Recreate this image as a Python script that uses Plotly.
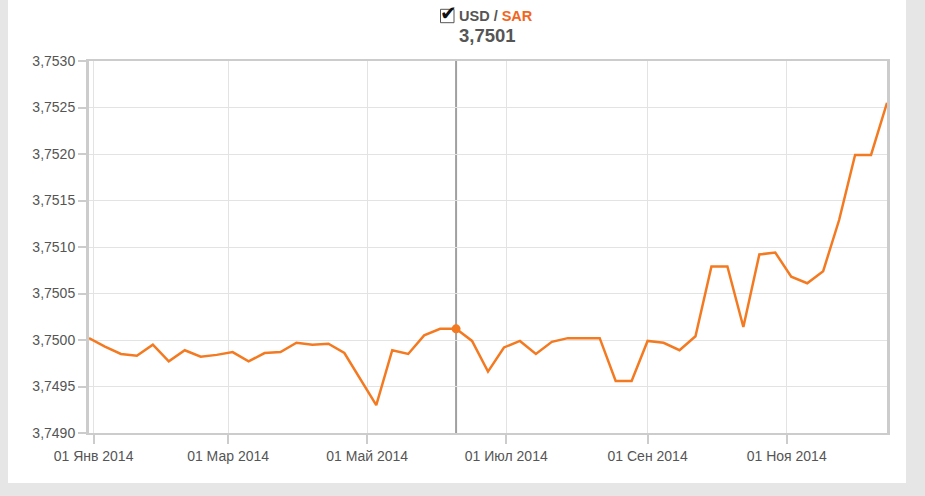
import plotly.graph_objects as go

dates = [
    "2013-12-30", "2014-01-06", "2014-01-13", "2014-01-20", "2014-01-27",
    "2014-02-03", "2014-02-10", "2014-02-17", "2014-02-24",
    "2014-03-03", "2014-03-10", "2014-03-17", "2014-03-24", "2014-03-31",
    "2014-04-07", "2014-04-14", "2014-04-21", "2014-04-28",
    "2014-05-05", "2014-05-12", "2014-05-19", "2014-05-26",
    "2014-06-02", "2014-06-09", "2014-06-16", "2014-06-23", "2014-06-30",
    "2014-07-07", "2014-07-14", "2014-07-21", "2014-07-28",
    "2014-08-04", "2014-08-11", "2014-08-18", "2014-08-25",
    "2014-09-01", "2014-09-08", "2014-09-15", "2014-09-22", "2014-09-29",
    "2014-10-06", "2014-10-13", "2014-10-20", "2014-10-27",
    "2014-11-03", "2014-11-10", "2014-11-17", "2014-11-24",
    "2014-12-01", "2014-12-08", "2014-12-15",
]

rates = [
    3.75002, 3.74993, 3.74985, 3.74983, 3.74995,
    3.74977, 3.74989, 3.74982, 3.74984,
    3.74987, 3.74977, 3.74986, 3.74987, 3.74997,
    3.74995, 3.74996, 3.74986, 3.74958,
    3.74930, 3.74989, 3.74985, 3.75005,
    3.75012, 3.75012, 3.74999, 3.74966, 3.74992,
    3.74999, 3.74985, 3.74998, 3.75002,
    3.75002, 3.75002, 3.74956, 3.74956,
    3.74999, 3.74997, 3.74989, 3.75004, 3.75079,
    3.75079, 3.75014, 3.75092, 3.75094,
    3.75068, 3.75061, 3.75074, 3.75129,
    3.75199, 3.75199, 3.75255,
]

hover_index = 23

tick_dates = ["2014-01-01", "2014-03-01", "2014-05-01", "2014-07-01", "2014-09-01", "2014-11-01"]
tick_labels = ["01 Янв 2014", "01 Мар 2014", "01 Май 2014", "01 Июл 2014", "01 Сен 2014", "01 Ноя 2014"]

y_ticks = [3.7490, 3.7495, 3.7500, 3.7505, 3.7510, 3.7515, 3.7520, 3.7525, 3.7530]

base_label = "USD"
quote_label = "SAR"

LINE = "#f47a22"
ORANGE_TXT = "#f26522"
FONT = "Liberation Sans, Arial, sans-serif"

fig = go.Figure()
fig.add_trace(go.Scatter(
    x=dates, y=rates, mode="lines",
    line=dict(color=LINE, width=2.5),
    hoverinfo="skip", showlegend=False,
))
fig.add_trace(go.Scatter(
    x=[dates[hover_index]], y=[rates[hover_index]], mode="markers",
    marker=dict(color=LINE, size=9),
    hoverinfo="skip", showlegend=False,
))

W, H = 925, 496
L, R, T, B = 89, 38, 61, 63
pw = W - L - R
ph = H - T - B

def px(x):
    return (x - L) / pw

def py(y):
    return (H - B - y) / ph

shapes = [
    # white panel
    dict(type="rect", xref="paper", yref="paper",
         x0=px(8), x1=px(906), y0=py(483), y1=py(-2),
         fillcolor="white", line=dict(width=0), layer="below"),
    # crosshair
    dict(type="line", xref="x", yref="paper",
         x0=dates[hover_index], x1=dates[hover_index], y0=0, y1=1,
         line=dict(color="#a0a0a0", width=2), layer="below"),
    # checkbox
    dict(type="rect", xref="paper", yref="paper",
         x0=px(440.5), x1=px(454), y0=py(22.7), y1=py(9.3),
         fillcolor="white", line=dict(color="#555555", width=1)),
]

annotations = [
    dict(xref="paper", yref="paper", x=px(448.5), y=py(13), xanchor="center", yanchor="middle",
         text="✔", showarrow=False, font=dict(family="DejaVu Sans", size=20, color="#111111")),
    dict(xref="paper", yref="paper", x=px(496), y=py(16), xanchor="center", yanchor="middle",
         text=f"<b>{base_label} / </b><b><span style='color:{ORANGE_TXT}'>{quote_label}</span></b>",
         showarrow=False, font=dict(family=FONT, size=14.5, color="#555555")),
    dict(xref="paper", yref="paper", x=px(487), y=py(35), xanchor="center", yanchor="middle",
         text="<b>" + f"{rates[hover_index]:.4f}".replace(".", ",") + "</b>",
         showarrow=False, font=dict(family=FONT, size=18.5, color="#555555")),
]

fig.update_layout(
    width=W, height=H,
    margin=dict(l=L, r=R, t=T, b=B, pad=0),
    paper_bgcolor="#e6e6e6",
    plot_bgcolor="white",
    separators=", ",
    font=dict(family=FONT, size=14, color="#555555"),
    shapes=shapes,
    annotations=annotations,
    xaxis=dict(
        range=[dates[0], dates[-1]],
        tickmode="array", tickvals=tick_dates, ticktext=tick_labels,
        showgrid=True, gridcolor="#e3e3e3", gridwidth=1,
        showline=True, linecolor="#cccccc", linewidth=2, mirror=True,
        ticks="outside", ticklen=9, tickwidth=2, tickcolor="#cccccc",
        tickfont=dict(size=14, color="#555555"),
        zeroline=False, fixedrange=True,
    ),
    yaxis=dict(
        range=[y_ticks[0], y_ticks[-1]],
        tickmode="array", tickvals=y_ticks, tickformat=".4f",
        showgrid=True, gridcolor="#e3e3e3", gridwidth=1,
        showline=True, linecolor="#cccccc", linewidth=3, mirror=True,
        ticks="outside", ticklen=8, tickwidth=2, tickcolor="#cccccc",
        tickfont=dict(size=14, color="#555555"),
        zeroline=False, fixedrange=True,
    ),
)

fig.write_html(
    "out.html",
    config={"displayModeBar": False},
    post_script="document.body.style.margin='0';document.body.style.overflow='hidden';",
)
